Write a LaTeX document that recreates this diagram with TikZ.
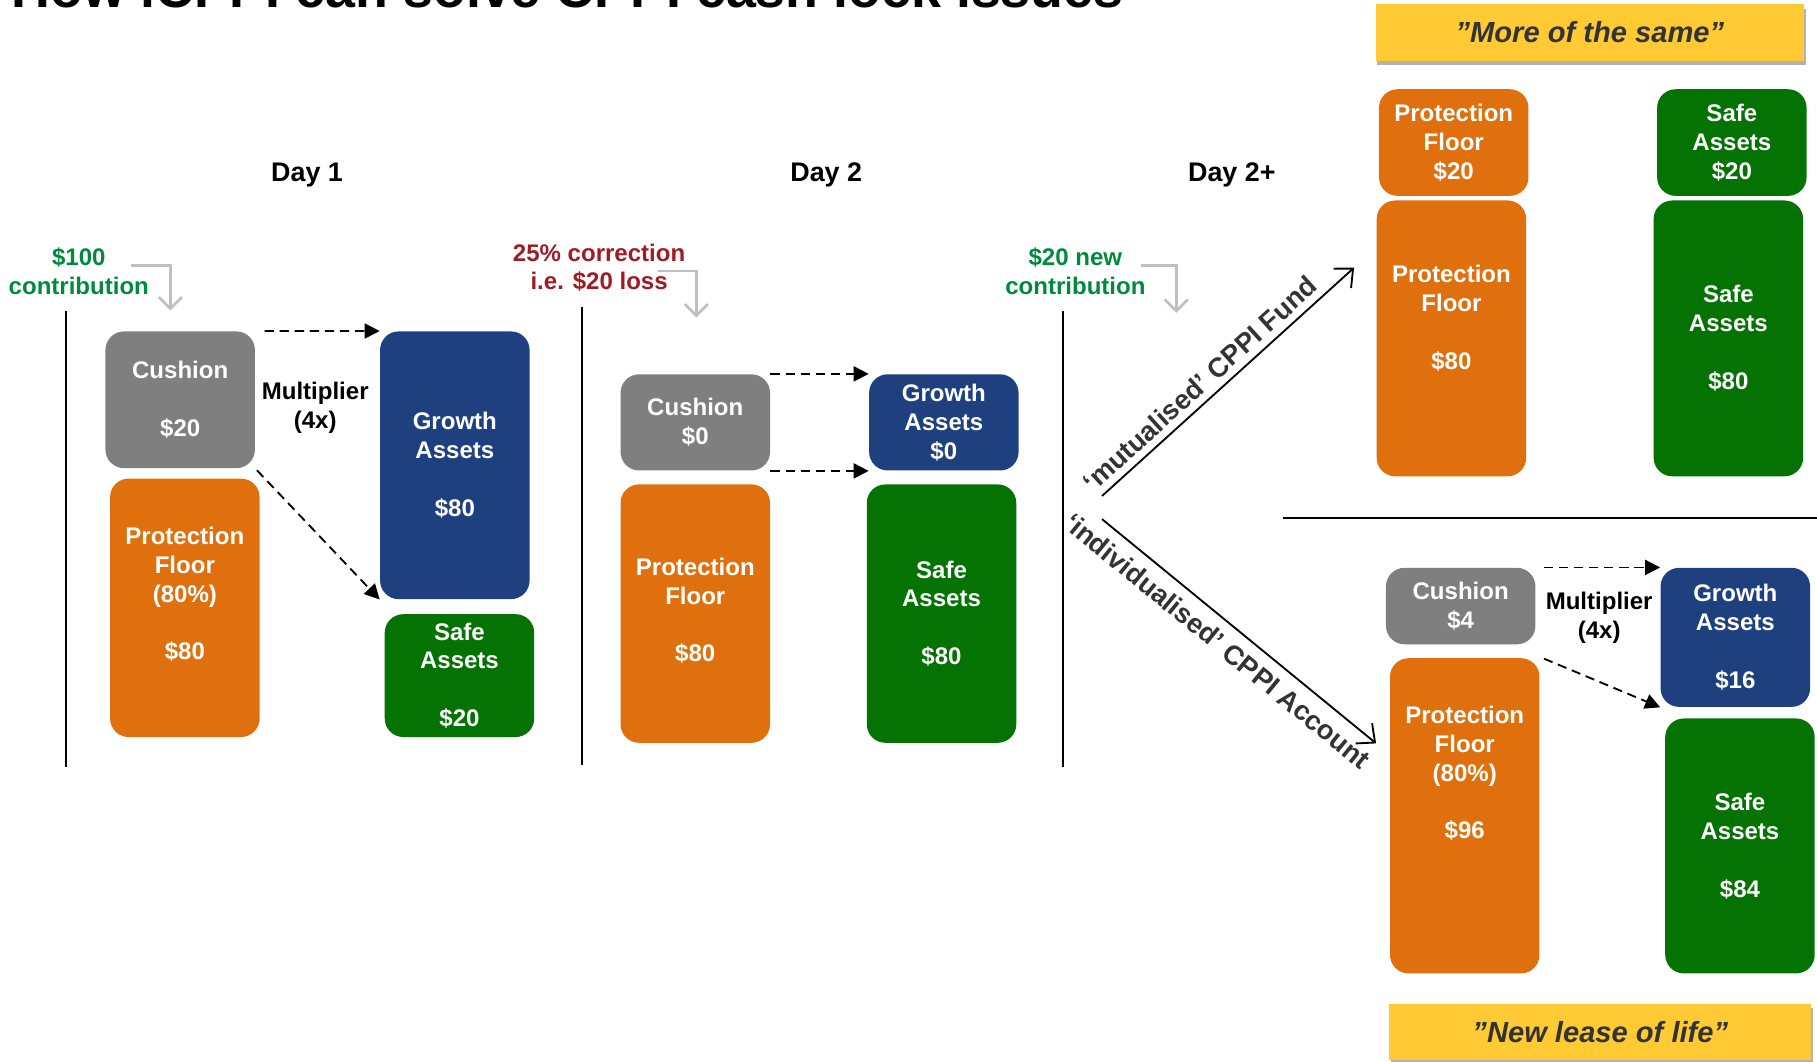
\documentclass[tikz,border=0pt]{standalone}
\usepackage{fontspec}
\setmainfont{Liberation Sans}
\usetikzlibrary{arrows.meta,shadows}

\definecolor{cushgray}{RGB}{127,127,127}
\definecolor{floororange}{RGB}{224,112,13}
\definecolor{growblue}{RGB}{31,64,127}
\definecolor{safegreen}{RGB}{4,115,4}
\definecolor{banneryellow}{RGB}{255,202,51}
\definecolor{bannertext}{RGB}{51,51,51}
\definecolor{contribgreen}{RGB}{0,138,62}
\definecolor{lossred}{RGB}{160,28,36}
\definecolor{arrowgray}{RGB}{191,191,191}

\newcommand{\boxfont}{\bfseries\fontsize{11.8}{14.2}\selectfont}

\begin{document}
\begin{tikzpicture}[
        >={Straight Barb[length=2.5mm,width=4.5mm]},
        box/.style={rounded corners=0.32cm, minimum width=2.58cm, inner sep=0pt,
            align=center, text=white, font=\boxfont},
        cushbox/.style={box, fill=cushgray},
        floorbox/.style={box, fill=floororange},
        growbox/.style={box, fill=growblue},
        safebox/.style={box, fill=safegreen},
        daylabel/.style={font=\bfseries\fontsize{13.2}{16}\selectfont},
        mult/.style={align=center, font=\boxfont},
        gtext/.style={align=center, text=contribgreen, font=\boxfont},
        rtext/.style={align=center, text=lossred, font=\boxfont},
        bent/.style={draw=arrowgray, line width=1.3pt,
            -{Straight Barb[length=2mm,width=4mm]}},
        dasharrow/.style={dash pattern=on 1.6mm off 1mm, line width=0.9pt,
            -{Triangle[length=2.6mm,width=2.6mm]}},
        timeline/.style={line width=1.1pt},
        route/.style={line width=0.9pt, ->},
        routelabel/.style={text=black!80, font=\bfseries\fontsize{13.4}{16}\selectfont},
        banner/.style={fill=banneryellow, minimum height=0.97cm, text=bannertext,
            font=\bfseries\itshape\fontsize{14.3}{17}\selectfont,
            drop shadow={shadow xshift=0.3mm, shadow yshift=-0.8mm, fill=black, opacity=0.3}}
    ]
        \useasboundingbox (0,0) rectangle (31.36,-18.32);
        \node[anchor=base west, inner sep=0pt, font=\bfseries\fontsize{26.4}{30}\selectfont]
            (title) at (0.2,-0.13) {How iCPPI can solve CPPI cash lock issues};

        % Day 1
        \node[daylabel] (day1) at (5.30,-3.02) {Day 1};
        \draw[timeline] (1.14,-5.36) -- (1.14,-13.24);
        \node[gtext] (contrib1) at (1.36,-4.68) {\$100\\contribution};
        \coordinate (c1from) at (2.26,-4.58);
        \coordinate (c1to) at (2.94,-5.36);
        \draw[bent] (c1from) -| (c1to);
        \node[cushbox, minimum height=2.36cm] (cush1) at (3.11,-6.90) {Cushion\\~\\\$20};
        \node[floorbox, minimum height=4.46cm] (floor1) at (3.19,-10.49) {Protection\\Floor\\(80\%)\\~\\\$80\\~};
        \node[growbox, minimum height=4.62cm] (grow1) at (7.85,-8.03) {Growth\\Assets\\~\\\$80};
        \node[safebox, minimum height=2.12cm] (safe1) at (7.93,-11.66) {Safe\\Assets\\~\\\$20};
        \node[mult] (mult1) at (5.44,-7.03) {Multiplier\\(4x)};
        \draw[dasharrow, shorten <=0.16cm] (cush1.north east) -- (grow1.north west);
        \draw[dasharrow, shorten <=0.04cm] (cush1.south east) -- (grow1.south west);

        % Day 2
        \node[daylabel] (day2) at (14.26,-3.02) {Day 2};
        \draw[timeline] (10.04,-5.30) -- (10.04,-13.20);
        \node[rtext] (loss2) at (10.34,-4.62) {25\% correction\\i.e. \$20 loss};
        \coordinate (c2from) at (11.36,-4.68);
        \coordinate (c2to) at (12.02,-5.48);
        \draw[bent] (c2from) -| (c2to);
        \node[cushbox, minimum height=1.66cm] (cush2) at (12.00,-7.29) {Cushion\\\$0};
        \node[floorbox, minimum height=4.46cm] (floor2) at (12.00,-10.59) {~\\[-0.3cm]Protection\\Floor\\~\\\$80};
        \node[growbox, minimum height=1.66cm] (grow2) at (16.29,-7.29) {Growth\\Assets\\\$0};
        \node[safebox, minimum height=4.46cm] (safe2) at (16.25,-10.59) {Safe\\Assets\\~\\\$80};
        \draw[dasharrow] (cush2.north east) -- (grow2.north west);
        \draw[dasharrow] (cush2.south east) -- (grow2.south west);

        % Day 2+
        \node[daylabel] (day3) at (21.26,-3.02) {Day 2+};
        \draw[timeline] (18.34,-5.36) -- (18.34,-13.24);
        \node[gtext] (contrib3) at (18.56,-4.68) {\$20 new\\contribution};
        \coordinate (c3from) at (19.70,-4.58);
        \coordinate (c3to) at (20.30,-5.40);
        \draw[bent] (c3from) -| (c3to);
        \coordinate (fundfrom) at (19.02,-8.56);
        \coordinate (fundto) at (23.37,-4.62);
        \coordinate (acctfrom) at (19.02,-8.96);
        \coordinate (acctto) at (23.75,-12.83);
        \draw[route] (fundfrom) -- node[routelabel, sloped, above, pos=0.435] (fundlabel) {‘mutualised’ CPPI Fund} (fundto);
        \draw[route] (acctfrom) -- node[routelabel, sloped, below, pos=0.47, inner sep=5pt] (acctlabel) {‘individualised’ CPPI Account} (acctto);
        \draw[timeline] (22.14,-8.94) -- (31.36,-8.94);

        % more of the same
        \node[banner, minimum width=7.40cm] (same) at (27.44,-0.56) {”More of the same”};
        \node[floorbox, minimum height=1.84cm] (floorA) at (25.09,-2.46) {Protection\\Floor\\\$20};
        \node[safebox, minimum height=1.84cm] (safeA) at (29.89,-2.46) {Safe\\Assets\\\$20};
        \node[floorbox, minimum height=4.76cm] (floorB) at (25.05,-5.84) {Protection\\Floor\\~\\\$80\\[0.24cm]~};
        \node[safebox, minimum height=4.76cm] (safeB) at (29.83,-5.84) {Safe\\Assets\\~\\\$80};

        % new lease of life
        \node[cushbox, minimum height=1.32cm] (cushC) at (25.21,-10.46) {Cushion\\\$4};
        \node[floorbox, minimum height=5.44cm] (floorC) at (25.28,-14.08) {Protection\\Floor\\(80\%)\\~\\\$96\\~\\~\\~};
        \node[growbox, minimum height=2.40cm] (growC) at (29.95,-11.00) {Growth\\Assets\\~\\\$16};
        \node[safebox, minimum height=4.40cm] (safeC) at (30.03,-14.60) {Safe\\Assets\\~\\\$84};
        \node[mult] (multC) at (27.60,-10.67) {Multiplier\\(4x)};
        \draw[dasharrow, shorten <=0.14cm] (cushC.north east) -- (growC.north west);
        \draw[dasharrow] ([xshift=0.14cm,yshift=-0.24cm]cushC.south east) -- (growC.south west);
        \node[banner, minimum width=7.28cm] (lease) at (27.62,-17.81) {”New lease of life”};
    \end{tikzpicture}
\end{document}
